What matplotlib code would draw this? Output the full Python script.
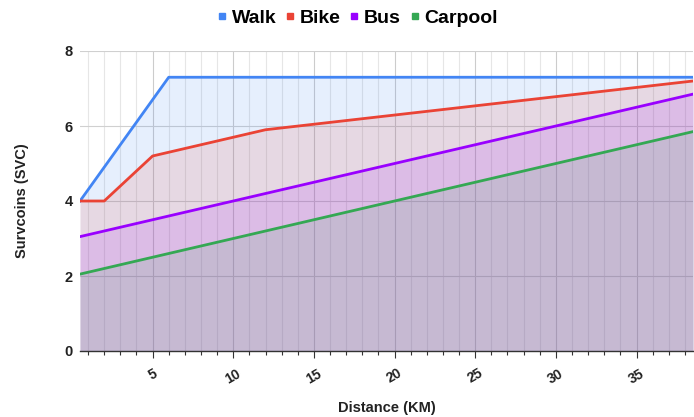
import matplotlib
matplotlib.use("Agg")
import matplotlib.pyplot as plt
from matplotlib.ticker import MultipleLocator
from matplotlib.lines import Line2D

plt.rcParams.update({
    "font.family": "Liberation Sans",
    "font.weight": "bold",
})

# ── Data (breakpoints) ────────────────────────────────
walk_x = [0.5, 6, 38.5]
walk_y = [4.0, 7.3, 7.3]
bike_x = [0.5, 2, 5, 12, 38.5]
bike_y = [4.0, 4.0, 5.2, 5.9, 7.2]
bus_x = [0.5, 38.5]
bus_y = [3.05, 6.85]
carpool_x = [0.5, 38.5]
carpool_y = [2.05, 5.85]

series = [
    ("Walk", walk_x, walk_y, "#4285f4"),
    ("Bike", bike_x, bike_y, "#ea4335"),
    ("Bus", bus_x, bus_y, "#9900ff"),
    ("Carpool", carpool_x, carpool_y, "#34a853"),
]

fig = plt.figure(figsize=(6.94, 4.17), dpi=100)
ax = fig.add_axes([80 / 694, 66 / 417, 613 / 694, 300 / 417])

for name, xs, ys, col in series:
    ax.fill_between(xs, ys, 0, color=col, alpha=0.13, linewidth=0, zorder=1)
for name, xs, ys, col in series:
    ax.plot(xs, ys, color=col, linewidth=2, zorder=3, solid_joinstyle="round")

ax.set_xlim(0.5, 38.5)
ax.set_ylim(0, 8)

# grid
ax.xaxis.set_major_locator(MultipleLocator(5))
ax.xaxis.set_minor_locator(MultipleLocator(1))
ax.yaxis.set_major_locator(MultipleLocator(2))
ax.grid(which="minor", axis="x", color="#e6e6e6", linewidth=0.8, zorder=0)
ax.grid(which="major", axis="x", color="#cccccc", linewidth=0.8, zorder=0)
ax.grid(which="major", axis="y", color="#d0d0d0", linewidth=0.8, zorder=0)
ax.set_axisbelow(True)

for s in ["top", "right", "left"]:
    ax.spines[s].set_visible(False)
ax.spines["bottom"].set_color("#333333")
ax.spines["bottom"].set_linewidth(1)

ax.tick_params(axis="x", which="major", length=5, width=0.8, color="#333333",
               labelsize=10, labelcolor="#222222", pad=6)
ax.tick_params(axis="x", which="minor", length=3, width=0.8, color="#333333")
ax.tick_params(axis="y", length=0, labelsize=10.5, labelcolor="#222222", pad=5)
for lab in ax.get_xticklabels():
    lab.set_rotation(30)
    lab.set_fontweight("bold")
for lab in ax.get_yticklabels():
    lab.set_fontweight("bold")

ax.set_xlabel("Distance (KM)", fontsize=10.5, fontweight="bold", color="#222222", labelpad=11)
ax.set_ylabel("Survcoins (SVC)", fontsize=10.5, fontweight="bold", color="#222222", labelpad=26)

handles = [Line2D([], [], marker="s", linestyle="none", markersize=5,
                  markerfacecolor=c, markeredgecolor=c, label=n)
           for n, _, _, c in series]
fig.legend(handles=handles, loc="upper center", bbox_to_anchor=(0.516, 1.02), ncol=4,
           frameon=False, handletextpad=0.3, columnspacing=0.5, handlelength=0.4,
           prop={"weight": "bold", "size": 14})

fig.savefig("out.png", dpi=100)
